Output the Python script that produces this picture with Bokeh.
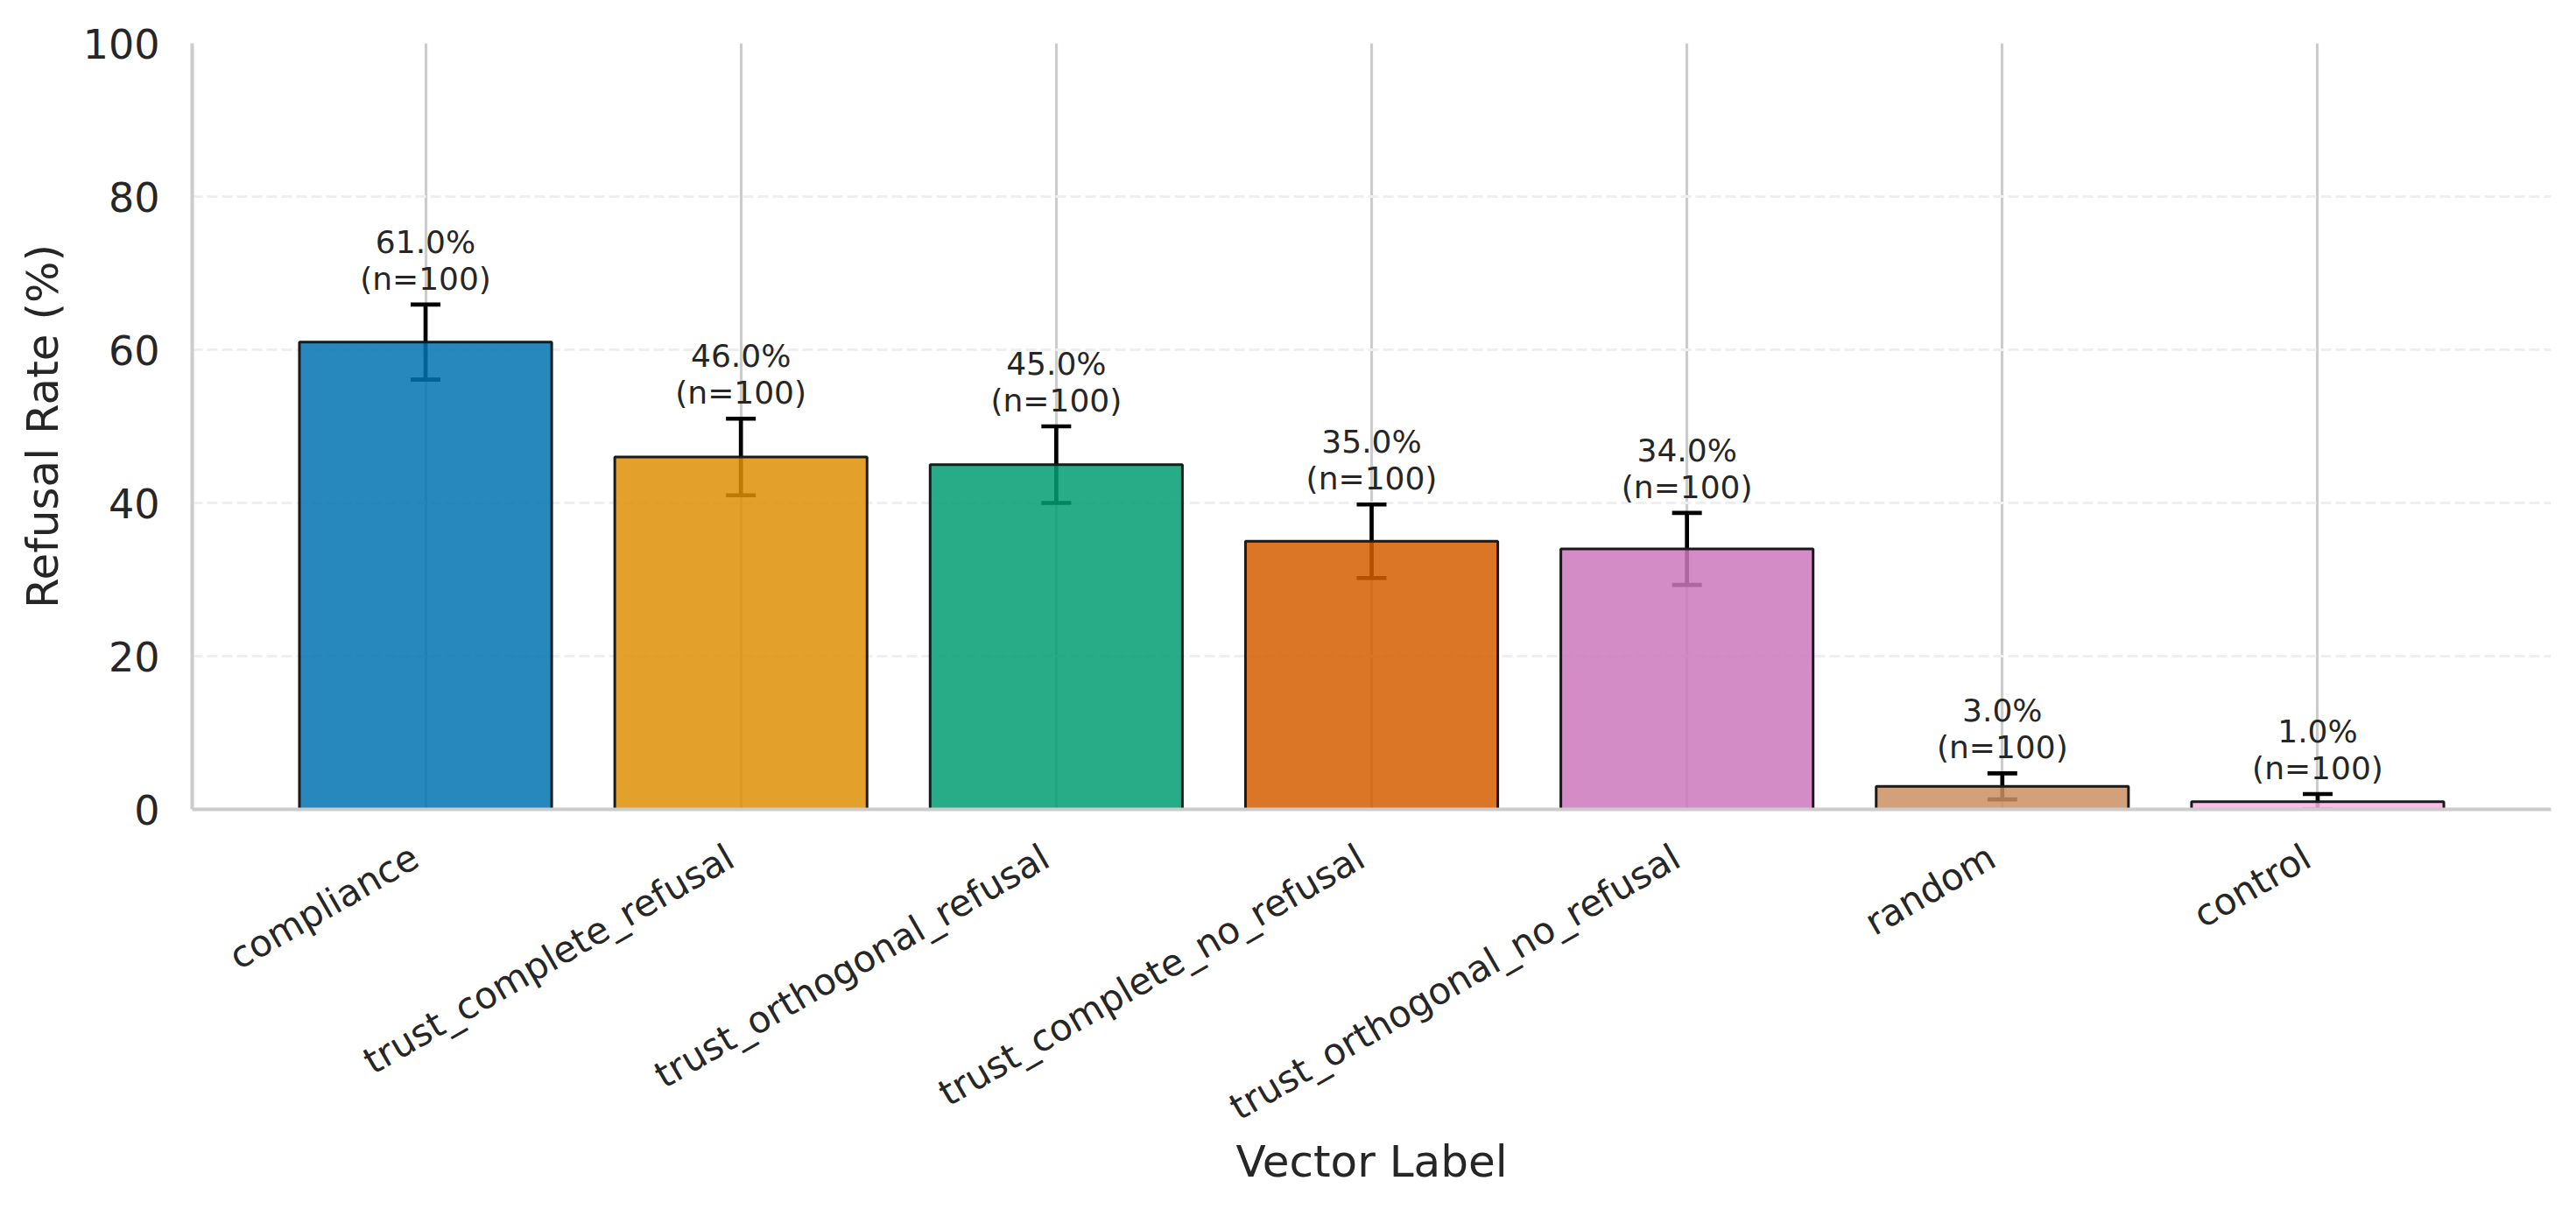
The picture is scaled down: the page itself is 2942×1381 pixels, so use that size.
import math
from bokeh.plotting import figure
from bokeh.models import Range1d, FixedTicker, ColumnDataSource, Whisker, TeeHead
from bokeh.embed import file_html
from bokeh.resources import INLINE

categories = ["compliance", "trust_complete_refusal", "trust_orthogonal_refusal",
              "trust_complete_no_refusal", "trust_orthogonal_no_refusal", "random", "control"]
rates = [61.0, 46.0, 45.0, 35.0, 34.0, 3.0, 1.0]
errors = [4.9, 5.0, 5.0, 4.8, 4.7, 1.7, 1.0]
counts = [100, 100, 100, 100, 100, 100, 100]
colors = ["#0173B2", "#DE8F05", "#029E73", "#D55E00", "#CC78BC", "#CA9161", "#FBAFE4"]
y_ticks = [0, 20, 40, 60, 80, 100]

FONT = "DejaVu Sans"
TXT = "#262626"

xs = list(range(len(categories)))
# rotated tick labels: small shift so the text ends at the bar centre (matplotlib ha="right")
LABEL_SHIFT = 0.033
label_ticks = [round(i - LABEL_SHIFT, 3) for i in xs]

src = ColumnDataSource(dict(
    x=xs, top=rates, color=colors,
    upper=[r + e for r, e in zip(rates, errors)],
    lower=[max(r - e, 0) for r, e in zip(rates, errors)],
    label_y=[r + e + 3.4 for r, e in zip(rates, errors)],
    pct=[f"{r:.1f}%" for r in rates],
    ntxt=[f"(n={n})" for n in counts],
))

p = figure(width=2920, height=1365, output_backend="svg", toolbar_location=None,
           x_range=Range1d(-0.74, len(categories) - 1 + 0.74), y_range=Range1d(0, 100),
           min_border_left=219, min_border_right=7, min_border_top=49, min_border_bottom=441)
p.background_fill_color = "white"
p.border_fill_color = "white"
p.outline_line_color = None

# grids
p.xgrid.ticker = FixedTicker(ticks=xs)
p.xgrid.grid_line_color = "#cccccc"
p.xgrid.grid_line_width = 3.2
p.ygrid.ticker = FixedTicker(ticks=y_ticks)
p.ygrid.grid_line_color = "#efefef"
p.ygrid.grid_line_width = 3
p.ygrid.grid_line_dash = "12 5"

p.vbar(x="x", top="top", width=0.8, source=src, fill_color="color", fill_alpha=0.85,
       line_color="#1a1a1a", line_width=3)

w = Whisker(base="x", upper="upper", lower="lower", source=src,
            line_color="black", line_width=4.7,
            upper_head=TeeHead(size=34, line_color="black", line_width=4.7),
            lower_head=TeeHead(size=34, line_color="black", line_width=4.7))
p.add_layout(w)

p.text(x="x", y="label_y", text="ntxt", source=src, text_align="center",
       text_baseline="middle", text_font_size="36px", text_color=TXT,
       text_font={"value": FONT})
p.text(x="x", y="label_y", text="pct", source=src, text_align="center",
       text_baseline="middle", text_font_size="36px", text_color=TXT,
       text_font={"value": FONT}, y_offset=-42)

# axes
xa = p.xaxis[0]
xa.ticker = FixedTicker(ticks=label_ticks)
xa.major_label_overrides = {t: c for t, c in zip(label_ticks, categories)}
xa.major_label_orientation = math.pi / 6
xa.major_label_text_font = FONT
xa.major_label_text_font_size = "42px"
xa.major_label_text_color = TXT
xa.major_label_standoff = 51
xa.axis_label = "Vector Label"
xa.axis_label_text_font = FONT
xa.axis_label_text_font_size = "50px"
xa.axis_label_text_font_style = "normal"
xa.axis_label_text_color = TXT
xa.axis_label_standoff = -15

ya = p.yaxis[0]
ya.ticker = FixedTicker(ticks=y_ticks)
ya.major_label_text_font = FONT
ya.major_label_text_font_size = "46px"
ya.major_label_text_color = TXT
ya.major_label_standoff = 37
ya.axis_label = "Refusal Rate (%)"
ya.axis_label_text_font = FONT
ya.axis_label_text_font_size = "50px"
ya.axis_label_text_font_style = "normal"
ya.axis_label_text_color = TXT
ya.axis_label_standoff = 14

for ax in (xa, ya):
    ax.axis_line_color = "#cccccc"
    ax.axis_line_width = 4
    ax.major_tick_line_color = None
    ax.minor_tick_line_color = None
    ax.major_tick_out = 0
    ax.major_tick_in = 0

with open("out.html", "w") as f:
    f.write(file_html(p, INLINE))
